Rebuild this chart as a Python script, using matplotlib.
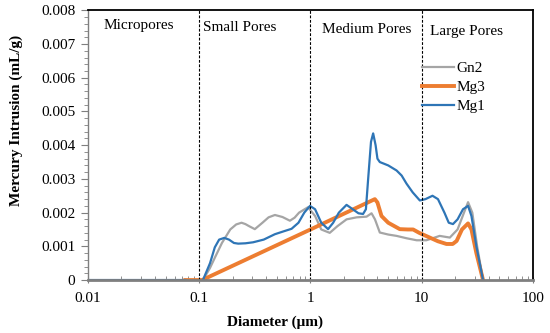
import numpy as np
import matplotlib.pyplot as plt
from matplotlib.ticker import MultipleLocator, FixedLocator, NullFormatter

nan = np.nan

# Gn2 (grey)
gn2_d = [0.01, 0.075, nan, 0.108, 0.125, 0.138, 0.16, 0.19, 0.215, 0.24, 0.26, 0.28, 0.316, 0.37,
         0.42, 0.479, 0.56, 0.653, 0.72, 0.79, 0.95, 1.1, 1.25, 1.49, 1.75, 2.11, 2.6, 3.19, 3.54, 3.8,
         4.2, 5.0, 5.94, 7.3, 9.0, 11.0, 12.8, 14.5, 17.9, 21.0, 24.0, 26.1, 28.5, 31.5, 35.6]
gn2_v = [0, 0, nan, 0, 0.00036, 0.00066, 0.0011, 0.0015, 0.00165, 0.0017, 0.00166, 0.0016, 0.00151, 0.0017,
         0.00186, 0.00193, 0.00187, 0.00176, 0.00185, 0.0020, 0.00216, 0.0019, 0.0015, 0.0014, 0.0016,
         0.0018, 0.00186, 0.00188, 0.00198, 0.0018, 0.00141, 0.00135, 0.00131, 0.00124, 0.00118,
         0.00118, 0.00125, 0.00131, 0.00126, 0.0015, 0.002, 0.00231, 0.002, 0.001, 0]

# Mg3 (orange)
mg3_d = [0.075, 0.106, 1.0, 3.79, 4.0, 4.35, 5.0, 6.35, 7.5, 8.37, 9.5, 11.8, 14.0, 16.7,
         19.0, 20.6, 23.0, 26.1, 28.0, 31.0, 35.6]
mg3_v = [0, 0, 0.0015, 0.0024, 0.0023, 0.0019, 0.0017, 0.00151, 0.0015, 0.0015, 0.0014,
         0.00126, 0.00115, 0.00107, 0.00107, 0.00116, 0.0015, 0.00168, 0.0015, 0.0008, 0]

# Mg1 (blue)
mg1_d = [0.01, 0.075, nan, 0.108, 0.125, 0.138, 0.151, 0.168, 0.185, 0.205, 0.224, 0.26, 0.305,
         0.38, 0.479, 0.58, 0.676, 0.78, 0.88, 0.99, 1.1, 1.25, 1.44, 1.6, 1.8, 2.11, 2.4, 2.7,
         2.97, 3.15, 3.3, 3.5, 3.66, 3.85, 4.0, 4.2, 5.0, 5.94, 6.6, 7.3, 8.3, 9.62, 10.8, 12.5,
         14.0, 16.0, 17.5, 19.1, 21.0, 23.5, 26.1, 28.0, 31.0, 35.6]
mg1_v = [0, 0, nan, 0, 0.0005, 0.00097, 0.0012, 0.00125, 0.0012, 0.0011, 0.00108, 0.00109,
         0.00112, 0.0012, 0.00136, 0.00145, 0.00152, 0.0017, 0.002, 0.0022, 0.0021, 0.0017,
         0.00151, 0.0017, 0.002, 0.00223, 0.0021, 0.00198, 0.00196, 0.0021, 0.003, 0.0041,
         0.00435, 0.004, 0.0036, 0.0035, 0.0034, 0.00325, 0.0031, 0.00286, 0.0026, 0.00236,
         0.0024, 0.0025, 0.0024, 0.002, 0.0017, 0.00166, 0.0018, 0.0021, 0.0022, 0.0019, 0.001, 0]

boundaries = [0.1, 1, 10]
regions = ["Micropores", "Small Pores", "Medium Pores", "Large Pores"]
yticks = [0, 0.001, 0.002, 0.003, 0.004, 0.005, 0.006, 0.007, 0.008]
ytick_labels = ["0", "0.001", "0.002", "0.003", "0.004", "0.005", "0.006", "0.007", "0.008"]
xticks = [0.01, 0.1, 1, 10, 100]
xtick_labels = ["0.01", "0.1", "1", "10", "100"]

plt.rcParams['font.family'] = ['Liberation Serif', 'DejaVu Serif']
plt.rcParams['font.size'] = 11

fig = plt.figure(figsize=(5.5, 3.33), dpi=100)
ax = fig.add_axes([0.16, 0.159, 0.809, 0.81])

ax.plot(gn2_d, gn2_v, color='#a5a5a5', lw=1.6, label='Gn2')
ax.plot(mg3_d, mg3_v, color='#ed7d31', lw=2.8, label='Mg3')
ax.plot(mg1_d, mg1_v, color='#2e75b6', lw=1.6, label='Mg1')

for b in boundaries:
    ax.axvline(b, color='black', lw=0.8, ls=(0, (2.5, 1.5)))

ax.set_xscale('log')
ax.set_xlim(0.01, 100)
ax.set_ylim(0, 0.008)
ax.set_xticks(xticks)
ax.set_xticklabels(xtick_labels)
ax.xaxis.set_minor_locator(FixedLocator([m * 10.0 ** e for e in range(-2, 2) for m in range(2, 10)]))
ax.xaxis.set_minor_formatter(NullFormatter())
ax.set_yticks(yticks)
ax.set_yticklabels(ytick_labels)
ax.yaxis.set_minor_locator(MultipleLocator(0.0002))

ax.tick_params(axis='x', which='major', direction='inout', length=5, color='#7f7f7f', pad=6)
ax.tick_params(axis='x', which='minor', direction='in', length=3, color='#7f7f7f')
ax.tick_params(axis='y', which='major', direction='out', length=5, color='#7f7f7f', pad=4)
ax.tick_params(axis='y', which='minor', direction='out', length=3, color='#7f7f7f')

for s in ['top', 'right']:
    ax.spines[s].set_color('black')
    ax.spines[s].set_linewidth(1.3)
ax.spines['bottom'].set_color('#7f7f7f')
ax.spines['bottom'].set_linewidth(2)
ax.spines['left'].set_color('#7f7f7f')
ax.spines['left'].set_linewidth(1)

ax.text(0.0285, 0.00755, regions[0], ha='center', va='center')
ax.text(0.108, 0.0075, regions[1], ha='left', va='center')
ax.text(3.2, 0.00743, regions[2], ha='center', va='center')
ax.text(11.8, 0.00737, regions[3], ha='left', va='center')

ax.legend(loc='upper left', bbox_to_anchor=(0.75, 0.81), frameon=False, borderpad=0,
          handlelength=2.1, handletextpad=0.15, labelspacing=0.35, borderaxespad=0)

ax.set_xlabel('Diameter (μm)', fontweight='bold', x=0.42, labelpad=8)
ax.set_ylabel('Mercury Intrusion (mL/g)', fontweight='bold', y=0.59, labelpad=13)

fig.savefig('out.png', dpi=100)
